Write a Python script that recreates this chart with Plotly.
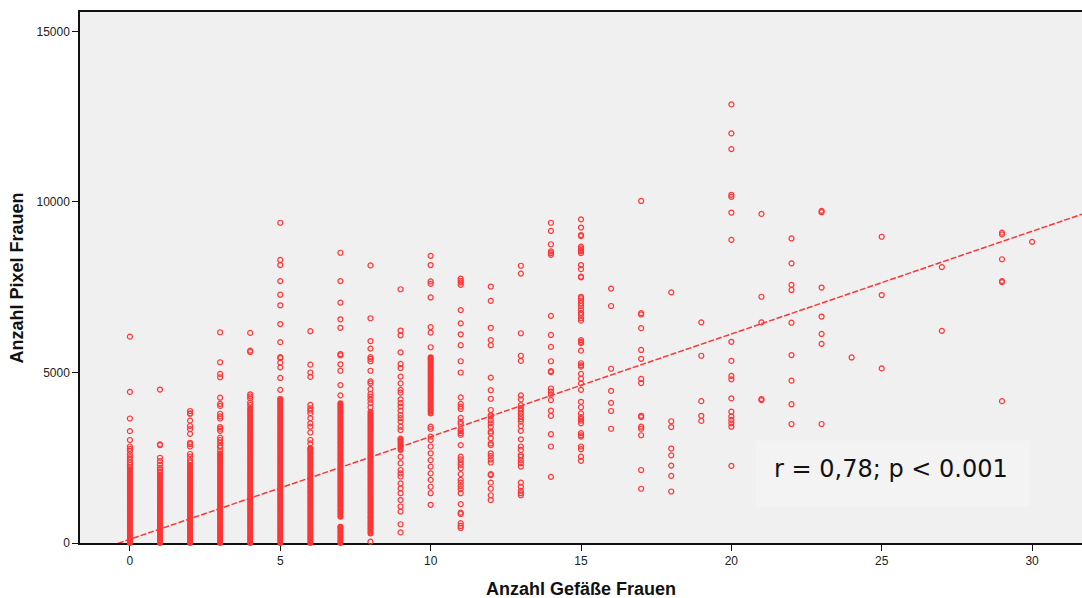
import plotly.graph_objects as go

# ---------------- data ----------------
x_tick_vals = [0, 5, 10, 15, 20, 25, 30]
y_tick_vals = [0, 5000, 10000, 15000]
y_tick_text = ["0", "5000", "10000", "15000"]

# isolated points per "Anzahl Gefäße" value
g0_s = [6050, 4430, 3650, 3280, 3020, 2830, 2760, 2700, 2600, 2520, 2440, 2360, 2290, 2220]
g1_s = [4500, 2890, 2870, 2500, 2400, 2300, 2200, 2140, 2090]
g2_s = [3870, 3800, 3790, 3590, 3430, 3340, 3200, 2940, 2900, 2830, 2610, 2530, 2430, 2360]
g3_s = [6180, 5300, 4960, 4860, 4260, 4080, 4020, 3790, 3710, 3650, 3400, 3350, 3290, 3090,
        3020, 2940, 2850, 2800, 2700]
g4_s = [6160, 5640, 5600, 4360, 4300, 4240, 4120, 4050]
g5_s = [9390, 8300, 8150, 7680, 7280, 6970, 6420, 5890, 5450, 5420, 5290, 5150, 4840, 4490, 4230]
g6_s = [6210, 5230, 5000, 4870, 4050, 3950, 3880, 3800, 3660, 3510, 3410, 3240, 3020, 2920]
g7_s = [8510, 7680, 7050, 6560, 6310, 5540, 5500, 5240, 5050, 4630, 4330]
g8_s = [8140, 6590, 5920, 5700, 5450, 5400, 5330, 5050, 4740, 4680, 4510, 4370, 4290, 4200,
        4100, 3980, 40]
g9_s = [7440, 6230, 6090, 5590, 5250, 5130, 4880, 4680, 4490, 4410, 4210, 4100, 4000, 3880,
        3750, 3660, 3560, 3410, 3310, 3060, 2530, 2340, 2140, 2040, 1950, 1750, 1600, 1460,
        1260, 1070, 920, 550, 310]
g10_s = [8420, 8150, 7670, 7600, 7200, 6330, 6170, 5740, 3410, 3350, 3120, 3020, 2830, 2630,
         2430, 2240, 2040, 1850, 1650, 1460, 1120]
g11_s = [7750, 7690, 7640, 7570, 6830, 6440, 6120, 5800, 5330, 5000, 4270, 4080, 4000, 3930,
         3670, 3550, 3490, 3340, 3280, 3220, 3170, 2870, 2530, 2450, 2360, 2290, 2190, 2020,
         1850, 1770, 1670, 1580, 1460, 1140, 890, 850, 580, 500, 440]
g12_s = [7520, 7100, 6310, 5950, 5800, 4850, 4480, 4230, 3900, 3750, 3710, 3600, 3510, 3410,
         3270, 3220, 3070, 2920, 2870, 2630, 2550, 2450, 2360, 2020, 1990, 1770, 1590, 1400, 1260]
g13_s = [8130, 7900, 6150, 5490, 5340, 4330, 4210, 4040, 3950, 3880, 3800, 3710, 3630, 3560,
         3430, 3290, 3040, 2830, 2730, 2580, 2530, 2430, 2340, 2240, 1770, 1650, 1530, 1460, 1400]
g14_s = [9390, 9150, 8760, 8550, 8500, 8450, 6660, 6100, 5750, 5330, 5040, 5010, 4530, 4440,
         4350, 4190, 3880, 3730, 3190, 2830, 1940]
g15_s = [9490, 9250, 9030, 9000, 8690, 8640, 8590, 8550, 8500, 8150, 8030, 7810, 7790, 7220,
         7180, 7110, 7030, 6950, 6850, 6750, 6690, 6590, 6520, 5950, 5900, 5860, 5640, 5270,
         5210, 5170, 4960, 4820, 4680, 4490, 4140, 3980, 3800, 3690, 3640, 3590, 3510, 3220,
         3160, 3120, 2830, 2750, 2530, 2410]
g16_s = [7460, 6950, 5110, 4460, 4110, 3870, 3350]
g17_s = [10030, 6740, 6700, 6300, 5660, 5400, 4810, 4690, 3730, 3690, 3410, 3350, 3160, 2140, 1590]
g18_s = [7350, 3570, 3400, 2770, 2570, 2270, 1970, 1510]
g19_s = [6470, 5490, 4160, 3730, 3580]
g20_s = [12860, 12010, 11550, 10210, 10150, 9690, 8890, 5900, 5340, 4900, 4800, 4240, 3850,
         3710, 3610, 3510, 3410, 2260]
g21_s = [9650, 7220, 6470, 4220, 4190]
g22_s = [8930, 8200, 7570, 7420, 6460, 5510, 4760, 4070, 3490]
g23_s = [9740, 9700, 7490, 6640, 6130, 5840, 3490]
g24_s = [5440]
g25_s = [8980, 7270, 5120]
g27_s = [8090, 6220]
g29_s = [9100, 9050, 8320, 7680, 7650, 4160]
g30_s = [8830]

# densely packed points (columns that look solid)
g0_d = [0, 50, 110, 165, 225, 280, 340, 395, 455, 510, 570, 625, 685, 740, 800, 855, 915, 970,
        1030, 1085, 1145, 1200, 1260, 1315, 1375, 1430, 1490, 1545, 1605, 1660, 1720, 1775,
        1835, 1890, 1950, 2005, 2065, 2120, 2160]
g1_d = [0, 60, 115, 175, 230, 290, 345, 405, 460, 520, 575, 635, 690, 750, 805, 865, 920, 980,
        1035, 1095, 1150, 1210, 1265, 1325, 1380, 1440, 1495, 1555, 1610, 1670, 1725, 1785,
        1840, 1900, 1955, 2010]
g2_d = [0, 55, 115, 170, 230, 285, 345, 400, 460, 515, 575, 630, 690, 745, 805, 860, 920, 975,
        1035, 1090, 1150, 1205, 1265, 1320, 1380, 1435, 1495, 1550, 1610, 1665, 1725, 1780,
        1840, 1895, 1955, 2010, 2070, 2125, 2185, 2240, 2290]
g3_d = [0, 60, 115, 175, 230, 290, 345, 405, 460, 520, 575, 635, 690, 750, 805, 865, 920, 980,
        1035, 1095, 1150, 1210, 1265, 1325, 1380, 1440, 1495, 1555, 1610, 1670, 1725, 1785,
        1840, 1900, 1955, 2015, 2070, 2130, 2185, 2245, 2300, 2360, 2415, 2475, 2530, 2590, 2620]
g4_d = [0, 55, 115, 170, 230, 285, 345, 400, 460, 515, 575, 630, 690, 745, 805, 860, 920, 975,
        1035, 1090, 1150, 1205, 1265, 1320, 1380, 1435, 1495, 1550, 1610, 1665, 1725, 1780,
        1840, 1895, 1955, 2010, 2070, 2125, 2185, 2240, 2300, 2355, 2415, 2470, 2530, 2585,
        2645, 2700, 2760, 2815, 2875, 2930, 2990, 3045, 3105, 3160, 3220, 3275, 3335, 3390,
        3450, 3505, 3565, 3620, 3680, 3735, 3795, 3850, 3910, 3960]
g5_d = [0, 60, 115, 175, 230, 290, 345, 405, 460, 520, 575, 635, 690, 750, 805, 865, 920, 980,
        1035, 1095, 1150, 1210, 1265, 1325, 1380, 1440, 1495, 1555, 1610, 1670, 1725, 1785,
        1840, 1900, 1955, 2015, 2070, 2130, 2185, 2245, 2300, 2360, 2415, 2475, 2530, 2590,
        2645, 2705, 2760, 2820, 2875, 2935, 2990, 3050, 3105, 3165, 3220, 3280, 3335, 3395,
        3450, 3510, 3565, 3625, 3680, 3740, 3795, 3855, 3910, 3970, 4025, 4085, 4140, 4190]
g6_d = [0, 55, 115, 170, 230, 285, 345, 400, 460, 515, 575, 630, 690, 745, 805, 860, 920, 975,
        1035, 1090, 1150, 1205, 1265, 1320, 1380, 1435, 1495, 1550, 1610, 1665, 1725, 1780,
        1840, 1895, 1955, 2010, 2070, 2125, 2185, 2240, 2300, 2355, 2415, 2470, 2530, 2585,
        2645, 2700, 2760, 2780]
g7_d = [0, 60, 115, 175, 230, 290, 345, 405, 460, 480, 770, 830, 885, 945, 1000, 1060, 1115,
        1175, 1230, 1290, 1345, 1405, 1460, 1520, 1575, 1635, 1690, 1750, 1805, 1865, 1920,
        1980, 2035, 2095, 2150, 2210, 2265, 2325, 2380, 2440, 2495, 2555, 2610, 2670, 2725,
        2785, 2840, 2900, 2955, 3015, 3070, 3130, 3185, 3245, 3300, 3360, 3415, 3475, 3530,
        3590, 3645, 3705, 3760, 3820, 3875, 3935, 3990, 4050, 4100]
g8_d = [280, 335, 395, 450, 510, 565, 625, 680, 740, 795, 855, 910, 970, 1025, 1085, 1140,
        1200, 1255, 1315, 1370, 1430, 1485, 1545, 1600, 1660, 1715, 1775, 1830, 1890, 1945,
        2005, 2060, 2120, 2175, 2235, 2290, 2350, 2405, 2465, 2520, 2580, 2635, 2695, 2750,
        2810, 2865, 2925, 2980, 3040, 3095, 3155, 3210, 3270, 3325, 3385, 3440, 3500, 3555,
        3615, 3670, 3730, 3785, 3850]
g9_d = [2730, 2790, 2850, 2910, 2970, 3020]
g10_d = [3800, 3860, 3915, 3975, 4030, 4090, 4145, 4205, 4260, 4320, 4375, 4435, 4490, 4550,
         4605, 4665, 4720, 4780, 4835, 4895, 4950, 5010, 5065, 5125, 5180, 5240, 5295, 5355,
         5410, 5450]

sparse_cols = [(0, g0_s), (1, g1_s), (2, g2_s), (3, g3_s), (4, g4_s), (5, g5_s), (6, g6_s),
               (7, g7_s), (8, g8_s), (9, g9_s), (10, g10_s), (11, g11_s), (12, g12_s),
               (13, g13_s), (14, g14_s), (15, g15_s), (16, g16_s), (17, g17_s), (18, g18_s),
               (19, g19_s), (20, g20_s), (21, g21_s), (22, g22_s), (23, g23_s), (24, g24_s),
               (25, g25_s), (27, g27_s), (29, g29_s), (30, g30_s)]
dense_cols = [(0, g0_d), (1, g1_d), (2, g2_d), (3, g3_d), (4, g4_d), (5, g5_d), (6, g6_d),
              (7, g7_d), (8, g8_d), (9, g9_d), (10, g10_d)]

# linear fit line
fit_intercept = 110
fit_slope = 301
x_range = [-1.66, 31.66]
y_range = [0, 15570]

# ---------------- figure ----------------
RED = "#ff3535"

def flatten(cols):
    xs, ys = [], []
    for xv, vals in cols:
        xs.extend([xv] * len(vals))
        ys.extend(vals)
    return xs, ys

xs_s, ys_s = flatten(sparse_cols)
xs_d, ys_d = flatten(dense_cols)

fig = go.Figure()
fig.add_trace(go.Scatter(
    x=xs_d, y=ys_d, mode="markers", cliponaxis=False,
    marker=dict(symbol="circle-open", size=4, color=RED, line=dict(width=2, color=RED)),
    showlegend=False, hoverinfo="skip"))
fig.add_trace(go.Scatter(
    x=xs_s, y=ys_s, mode="markers", cliponaxis=False,
    marker=dict(symbol="circle-open", size=5, color=RED, line=dict(width=1.2, color=RED)),
    showlegend=False))
fig.add_trace(go.Scatter(
    x=x_range, y=[fit_intercept + fit_slope * v for v in x_range], mode="lines",
    line=dict(color=RED, width=1.5, dash="6px,2px"), showlegend=False, hoverinfo="skip"))

fig.add_shape(type="rect", xref="x", yref="y", x0=20.82, x1=29.93, y0=1065, y1=3000,
              fillcolor="#f3f3f3", line=dict(width=0), layer="below")
fig.add_annotation(x=25.3, y=2180, xref="x", yref="y", text="r = 0,78; p &lt; 0.001",
                   showarrow=False, font=dict(family="DejaVu Sans", size=24, color="#111111"))

fig.add_annotation(x=0.5, y=-0.0866, xref="paper", yref="paper", text="<b>Anzahl Gefäße Frauen</b>",
                   showarrow=False, xanchor="center", yanchor="middle",
                   font=dict(family="Liberation Sans", size=18, color="#111111"))
fig.add_annotation(x=-0.0629, y=0.5, xref="paper", yref="paper", text="<b>Anzahl Pixel Frauen</b>",
                   showarrow=False, textangle=-90, xanchor="center", yanchor="middle",
                   font=dict(family="Liberation Sans", size=18, color="#111111"))

fig.update_layout(
    width=1082, height=598,
    margin=dict(l=80, r=0, t=12, b=55),
    paper_bgcolor="white", plot_bgcolor="#f0f0f0",
    xaxis=dict(range=x_range, tickvals=x_tick_vals, ticks="outside", ticklen=6, tickwidth=1,
               tickcolor="#111", showline=True, linecolor="#111", linewidth=1.5, mirror=True,
               showgrid=False, zeroline=False, layer="below traces",
               tickfont=dict(family="Liberation Sans", size=12, color="#222")),
    yaxis=dict(range=y_range, tickvals=y_tick_vals, ticktext=y_tick_text, ticks="outside",
               ticklen=6, tickwidth=1, tickcolor="#111", showline=True, linecolor="#111",
               linewidth=1.5, showgrid=False, zeroline=False, layer="below traces",
               tickfont=dict(family="Liberation Sans", size=12, color="#222")),
)

fig.write_html("out.html")
